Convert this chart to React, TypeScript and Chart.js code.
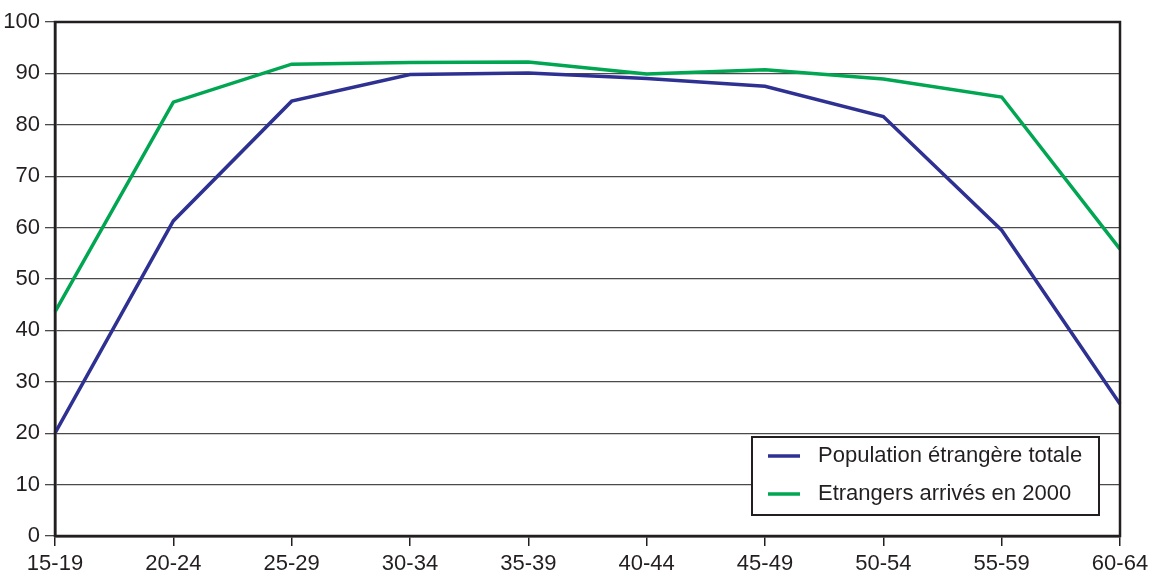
import React, { useEffect, useRef } from "react";
import { Chart, registerables } from "chart.js";

Chart.register(...registerables);

const categories = ["15-19", "20-24", "25-29", "30-34", "35-39", "40-44", "45-49", "50-54", "55-59", "60-64"];
const populationTotale = [20.0, 61.3, 84.6, 89.8, 90.1, 89.0, 87.5, 81.6, 59.5, 25.7];
const arrives2000 = [43.6, 84.4, 91.8, 92.1, 92.2, 89.9, 90.7, 88.9, 85.4, 55.8];
const seriesLabels = ["Population étrangère totale", "Etrangers arrivés en 2000"];
const seriesColors = ["#2e3192", "#00a651"];

const FONT = "'Liberation Sans', Arial, Helvetica, sans-serif";
const TEXT = "#231f20";

const framePlugin = {
  id: "frame",
  afterDatasetsDraw(chart: any) {
    const { ctx, chartArea } = chart;
    ctx.save();
    ctx.strokeStyle = TEXT;
    ctx.lineWidth = 2.5;
    ctx.strokeRect(chartArea.left, chartArea.top, chartArea.right - chartArea.left, chartArea.bottom - chartArea.top);
    ctx.restore();
  },
};

const boxLegendPlugin = {
  id: "boxLegend",
  afterDraw(chart: any) {
    const { ctx, chartArea } = chart;
    const w = 347;
    const h = 78;
    const right = chartArea.right - 21;
    const bottom = chartArea.bottom - 21;
    const left = right - w;
    const top = bottom - h;
    ctx.save();
    ctx.fillStyle = "#ffffff";
    ctx.fillRect(left, top, w, h);
    ctx.strokeStyle = TEXT;
    ctx.lineWidth = 2;
    ctx.strokeRect(left, top, w, h);
    chart.data.datasets.forEach((ds: any, i: number) => {
      const y = top + 19 + i * 38;
      ctx.strokeStyle = ds.borderColor;
      ctx.lineWidth = 3.5;
      ctx.beginPath();
      ctx.moveTo(left + 16, y);
      ctx.lineTo(left + 48, y);
      ctx.stroke();
      ctx.fillStyle = TEXT;
      ctx.font = `22px ${FONT}`;
      ctx.textBaseline = "middle";
      ctx.textAlign = "left";
      ctx.fillText(ds.label, left + 66, y);
    });
    ctx.restore();
  },
};

export default function App() {
  const canvasRef = useRef<HTMLCanvasElement | null>(null);

  useEffect(() => {
    document.body.style.margin = "0";
    const canvas = canvasRef.current;
    if (!canvas) return;
    const chart = new Chart(canvas, {
      type: "line",
      data: {
        labels: categories,
        datasets: [
          {
            label: seriesLabels[0],
            data: populationTotale,
            borderColor: seriesColors[0],
            backgroundColor: seriesColors[0],
            borderWidth: 3.5,
            pointRadius: 0,
            tension: 0,
            fill: false,
          },
          {
            label: seriesLabels[1],
            data: arrives2000,
            borderColor: seriesColors[1],
            backgroundColor: seriesColors[1],
            borderWidth: 3.5,
            pointRadius: 0,
            tension: 0,
            fill: false,
          },
        ],
      },
      options: {
        animation: false,
        responsive: true,
        maintainAspectRatio: false,
        layout: { padding: { top: 22, right: 29, left: 0, bottom: 0 } },
        plugins: {
          legend: { display: false },
          tooltip: { enabled: false },
        },
        scales: {
          x: {
            type: "category",
            offset: false,
            grid: {
              drawOnChartArea: false,
              drawTicks: true,
              tickLength: 10,
              color: TEXT,
              lineWidth: 1.5,
            },
            border: { display: true, color: TEXT, width: 2.5 },
            ticks: {
              color: TEXT,
              font: { family: FONT, size: 22 },
              padding: 5,
              maxRotation: 0,
              autoSkip: false,
            },
            afterFit: (scale: any) => {
              scale.height = 38;
              scale.paddingLeft = 0;
              scale.paddingRight = 0;
            },
          },
          y: {
            min: 0,
            max: 100,
            ticks: {
              stepSize: 10,
              color: TEXT,
              font: { family: FONT, size: 22 },
              padding: 5,
            },
            grid: {
              color: "#4a4a4a",
              lineWidth: 1.3,
              drawTicks: true,
              tickLength: 10,
            },
            border: { display: true, color: TEXT, width: 2.5 },
            afterFit: (scale: any) => {
              scale.width = 55;
              scale.paddingTop = 0;
              scale.paddingBottom = 0;
            },
          },
        },
      },
      plugins: [framePlugin, boxLegendPlugin],
    });
    return () => chart.destroy();
  }, []);

  return (
    <div style={{ position: "fixed", left: 0, top: 0, width: 1149, height: 574, background: "#ffffff" }}>
      <canvas ref={canvasRef} />
    </div>
  );
}
